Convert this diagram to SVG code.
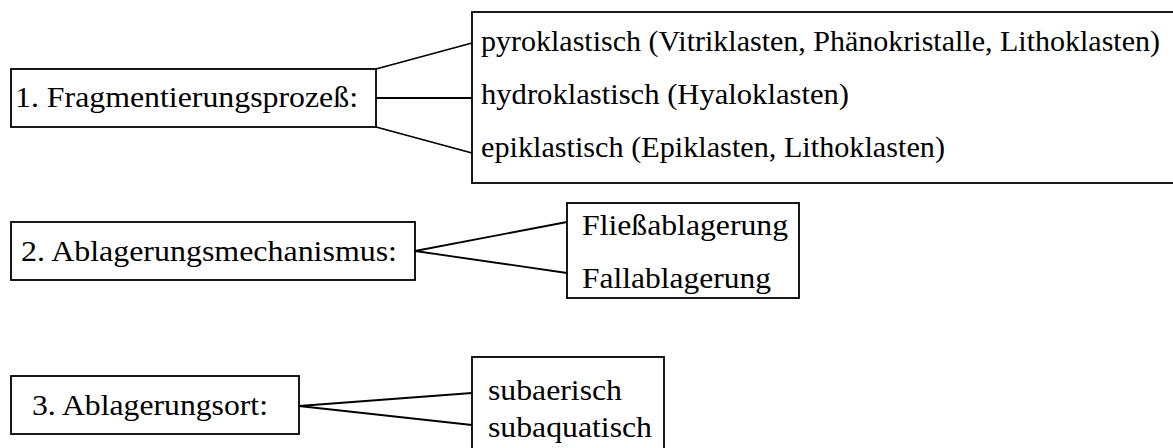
<svg xmlns="http://www.w3.org/2000/svg" width="1173" height="448" viewBox="0 0 1173 448">
<style>
.box{fill:#fff;stroke:#000;stroke-width:1.8}
.t{font-family:'Liberation Serif','Times New Roman',Times,serif;font-size:30px;fill:#000}
.c{stroke:#000;stroke-width:1.8;fill:none}
</style>
<rect width="1173" height="448" fill="#fff"/>
<g id="connectors">
<line class="c" x1="376" y1="69" x2="472" y2="43"/>
<line class="c" x1="376" y1="98" x2="472" y2="98"/>
<line class="c" x1="376" y1="127" x2="472" y2="153"/>
<line class="c" x1="415" y1="251" x2="567" y2="222"/>
<line class="c" x1="415" y1="251" x2="567" y2="273"/>
<line class="c" x1="299" y1="406" x2="472" y2="393"/>
<line class="c" x1="299" y1="406" x2="472" y2="425"/>
</g>
<g id="n1">
<rect class="box" x="11" y="69" width="365" height="58"/>
<text class="t" x="15" y="107" textLength="343" lengthAdjust="spacingAndGlyphs">1. Fragmentierungsprozeß:</text>
</g>
<g id="n1a">
<rect class="box" x="472" y="12" width="710" height="171"/>
<text class="t" x="481" y="51" textLength="679" lengthAdjust="spacingAndGlyphs">pyroklastisch (Vitriklasten, Phänokristalle, Lithoklasten)</text>
<text class="t" x="481" y="104" textLength="368" lengthAdjust="spacingAndGlyphs">hydroklastisch (Hyaloklasten)</text>
<text class="t" x="481" y="157" textLength="464" lengthAdjust="spacingAndGlyphs">epiklastisch (Epiklasten, Lithoklasten)</text>
</g>
<g id="n2">
<rect class="box" x="11" y="222" width="404" height="58"/>
<text class="t" x="21" y="261" textLength="376" lengthAdjust="spacingAndGlyphs">2. Ablagerungsmechanismus:</text>
</g>
<g id="n2a">
<rect class="box" x="567" y="203" width="232" height="95"/>
<text class="t" x="582" y="235" textLength="206" lengthAdjust="spacingAndGlyphs">Fließablagerung</text>
<text class="t" x="582" y="288" textLength="189" lengthAdjust="spacingAndGlyphs">Fallablagerung</text>
</g>
<g id="n3">
<rect class="box" x="11" y="376" width="288" height="58"/>
<text class="t" x="32" y="415" textLength="236" lengthAdjust="spacingAndGlyphs">3. Ablagerungsort:</text>
</g>
<g id="n3a">
<rect class="box" x="472" y="357" width="192" height="100"/>
<text class="t" x="488" y="400" textLength="134" lengthAdjust="spacingAndGlyphs">subaerisch</text>
<text class="t" x="488" y="437" textLength="164" lengthAdjust="spacingAndGlyphs">subaquatisch</text>
</g>
</svg>
